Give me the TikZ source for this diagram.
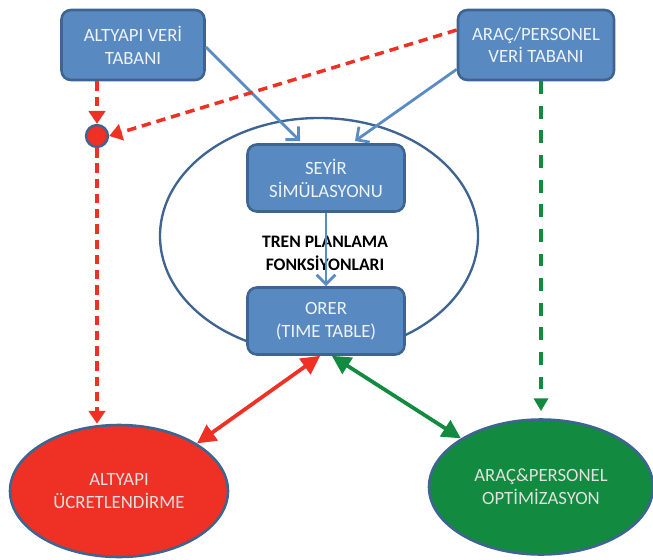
\documentclass[tikz,border=0pt]{standalone}
\usepackage{fontspec}
\setmainfont{Carlito}
\usetikzlibrary{shapes.geometric,arrows.meta}
\definecolor{boxblue}{RGB}{88,138,193}
\definecolor{edgeblue}{RGB}{62,100,145}
\definecolor{lineblue}{RGB}{90,140,195}
\definecolor{tred}{RGB}{238,49,36}
\definecolor{tgreen}{RGB}{18,138,63}
\tikzset{
  dbbox/.style={draw=edgeblue, line width=2.2pt, fill=boxblue, rounded corners=8pt,
    text=white!90!boxblue, align=center, font=\fontsize{16}{19.5}\selectfont},
  funcbox/.style={dbbox, minimum width=157*0.03cm, minimum height=67*0.03cm},
  outell/.style={ellipse, draw=edgeblue, line width=2.2pt, align=center,
    text=white!88!black, font=\fontsize{16}{19.5}\selectfont},
  blueflow/.style={lineblue, line width=2.4pt, -{Straight Barb[length=8pt,width=16pt]}},
  reddash/.style={tred, line width=3pt, dash pattern=on 8pt off 5pt, -{Triangle[length=11pt,width=14pt]}},
  greendash/.style={tgreen, line width=3pt, dash pattern=on 11pt off 10pt, -{Triangle[length=11pt,width=12pt]}},
  twoway/.style={line width=3.2pt, {Triangle[length=16pt,width=16pt]}-{Triangle[length=16pt,width=16pt]}}
}
\begin{document}
\begin{tikzpicture}[x=0.03cm, y=-0.03cm]
\useasboundingbox (0,0) rectangle (653,559);
% planning functions
\node[draw=edgeblue, line width=2pt, ellipse, minimum width=318*0.03cm, minimum height=236*0.03cm] (plan) at (319,236) {};
\node[dbbox, minimum width=143*0.03cm, minimum height=70*0.03cm] (altdb) at (133,45) {ALTYAPI VER\.I\\TABANI};
\node[dbbox, minimum width=156*0.03cm, minimum height=70*0.03cm] (aracdb) at (536,45) {ARAÇ/PERSONEL\\VER\.I TABANI};
\node[funcbox] (seyir) at (326,178) {SEY\.IR\\S\.IMÜLASYONU};
\node[funcbox] (orer) at (326,321) {ORER\\(TIME TABLE)};
\node[font=\fontsize{15}{19.5}\selectfont\bfseries, align=center] (tren) at (325,253) {TREN PLANLAMA\\FONKS\.IYONLARI};
\node[circle, draw=edgeblue, line width=2pt, fill=tred, minimum size=22*0.03cm, inner sep=0pt] (join) at (97,136) {};
% results
\node[outell, fill=tred, minimum width=218*0.03cm, minimum height=132*0.03cm] (ucret) at (119,491) {ALTYAPI\\ÜCRETLEND\.IRME};
\node[outell, fill=tgreen, minimum width=224*0.03cm, minimum height=135*0.03cm] (optim) at (541,487) {ARAÇ\&PERSONEL\\OPT\.IM\.IZASYON};
% connectors
\draw[blueflow] (altdb.east) ++(0,2) coordinate (a1) -- (300,141) coordinate (a2);
\draw[blueflow] (aracdb.south west) ++(0,-12) coordinate (b1) -- (355,141) coordinate (b2);
\draw[blueflow] (seyir) -- (orer);
\draw[reddash] (join.north |- altdb.south) -- (join.north);
\draw[reddash] (aracdb.west) ++(0,-15) coordinate (c1) -- (join.east);
\draw[reddash] (join.south) -- (ucret.north -| join.south);
\draw[greendash] (aracdb.south -| optim.north) -- ([yshift=6]optim.north);
\draw[twoway, tred] ([xshift=-5]orer.south) -- (ucret.north east);
\draw[twoway, tgreen] ([xshift=5]orer.south) -- (optim.north west);
\end{tikzpicture}
\end{document}
